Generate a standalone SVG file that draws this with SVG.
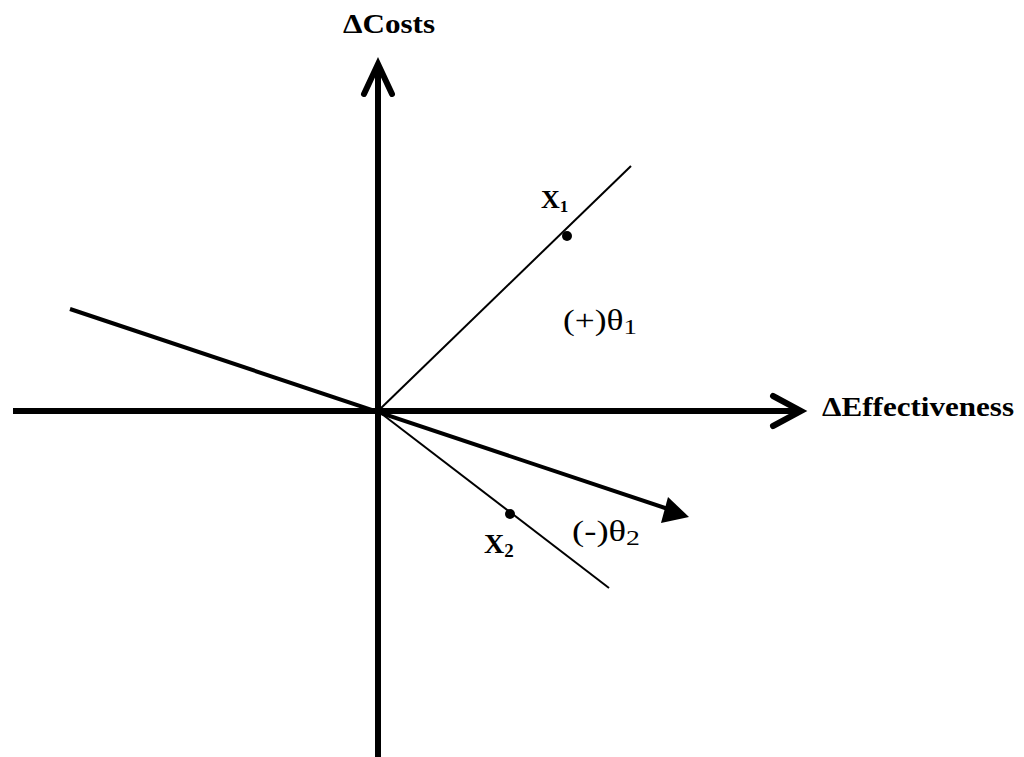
<svg xmlns="http://www.w3.org/2000/svg" width="1024" height="757" viewBox="0 0 1024 757">
<style>
.axis{stroke:#000;stroke-width:6;fill:none}
.chev{stroke:#000;stroke-width:6;fill:none;stroke-linecap:round;stroke-linejoin:miter}
.thin{stroke:#000;stroke-width:2;fill:none}
.lbl{font-family:"Liberation Serif",serif;font-weight:bold;fill:#000}
.th{font-family:"Liberation Serif",serif;font-size:29px;fill:#000}
</style>
<rect width="1024" height="757" fill="#fff"/>
<g id="connectors">
<line class="axis" x1="378" y1="66" x2="378" y2="757"/>
<polyline class="chev" points="364,94 378,64 392,94"/>
<line class="axis" x1="13" y1="411" x2="799" y2="411"/>
<polyline class="chev" points="773,396 801,411 773,426"/>
<line class="thin" x1="378" y1="411" x2="631" y2="166"/>
<line class="thin" x1="378" y1="411" x2="609" y2="588"/>
<line stroke="#000" stroke-width="4" x1="70" y1="309" x2="668" y2="509"/>
<polygon points="689,517 661,523 668,497" fill="#000"/>
</g>
<g id="x1"><circle cx="567" cy="236" r="5" fill="#000"/><text class="lbl" x="541" y="208" font-size="26">X<tspan font-size="17" dy="4">1</tspan></text></g>
<g id="x2"><circle cx="510" cy="514" r="5" fill="#000"/><text class="lbl" x="484" y="553" font-size="28">X<tspan font-size="19" dy="4">2</tspan></text></g>
<g id="theta1"><text class="th" x="563" y="330" textLength="74" lengthAdjust="spacingAndGlyphs">(+)θ<tspan font-size="22" dy="4">1</tspan></text></g>
<g id="theta2"><text class="th" x="572" y="541" textLength="68" lengthAdjust="spacingAndGlyphs">(-)θ<tspan font-size="22" dy="4">2</tspan></text></g>
<g id="ycost"><text class="lbl" x="343" y="33" font-size="27" textLength="92" lengthAdjust="spacingAndGlyphs">ΔCosts</text></g>
<g id="xeff"><text class="lbl" x="822" y="416" font-size="27" textLength="192" lengthAdjust="spacingAndGlyphs">ΔEffectiveness</text></g>
</svg>
